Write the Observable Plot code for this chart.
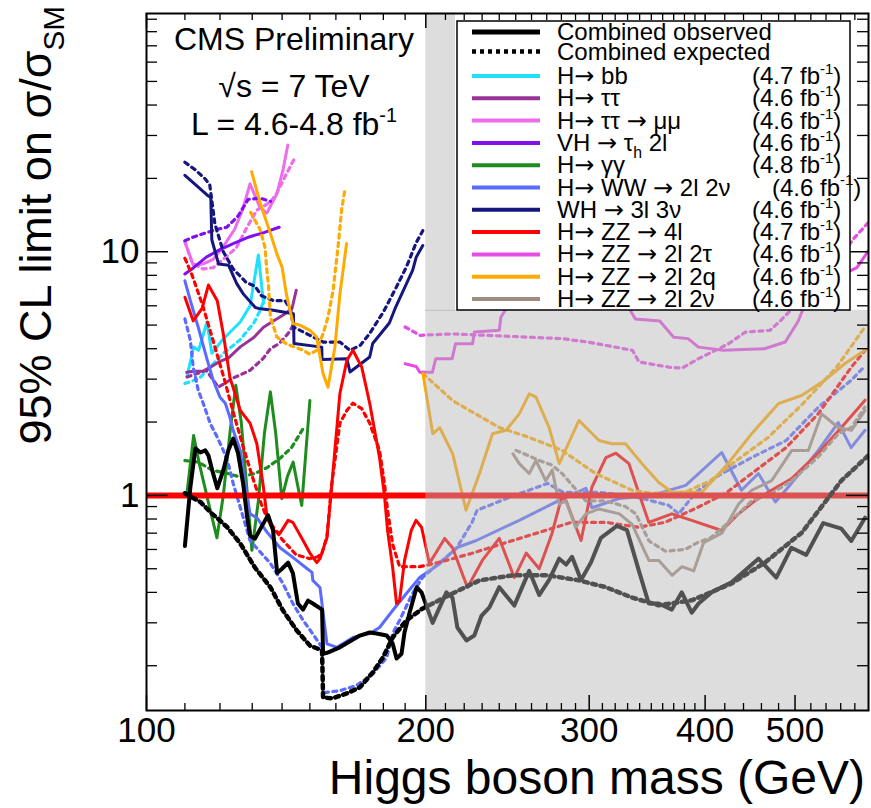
<!DOCTYPE html>
<html><head><meta charset="utf-8">
<script src="https://cdn.jsdelivr.net/npm/d3@7"></script>
<script src="https://cdn.jsdelivr.net/npm/@observablehq/plot@0.6"></script>
<style>body{margin:0;background:#fff;} svg{display:block;}</style>
</head><body><div id="chart"></div>
<script>
// ---------------- data (mass GeV, 95% CL limit on sigma/sigma_SM) ----------------
const combObs = [[110,0.62],[111.5,1.08],[112.9,1.56],[114.3,1.50],[115.7,1.53],[116.6,1.46],[117.7,1.27],[119.2,1.07],[121,1.27],[122.5,1.53],[124,1.71],[125.5,1.49],[127.1,1.12],[128.4,0.81],[129.3,0.685],[130.9,0.665],[133.2,0.75],[135.2,0.83],[136.9,0.72],[138.3,0.48],[140,0.50],[142.1,0.53],[143.8,0.48],[145.6,0.36],[147.5,0.34],[149.3,0.37],[151.1,0.36],[154.6,0.34],[155,0.224],[156.5,0.226],[161.6,0.238],[169.8,0.266],[174,0.274],[177,0.271],[181.5,0.266],[184.2,0.247],[186,0.214],[188.3,0.224],[189.7,0.274],[192.1,0.33],[195.5,0.42],[197.9,0.40],[203.4,0.30],[210.5,0.40],[213.7,0.38],[216.3,0.287],[221.2,0.254],[225.6,0.266],[229.6,0.32],[234.2,0.347],[240,0.42],[249.1,0.353],[258.5,0.49],[265,0.39],[271.6,0.45],[278.5,0.55],[283.3,0.52],[287.5,0.56],[294,0.45],[301.3,0.53],[308.9,0.67],[321.4,0.75],[329.5,0.72],[339.4,0.49],[347.8,0.36],[356.5,0.36],[368.3,0.34],[377.5,0.40],[386.9,0.33],[393.6,0.36],[406.4,0.40],[427.1,0.44],[456.6,0.55],[477.3,0.46],[495.5,0.61],[514.1,0.57],[536.3,0.77],[560.9,0.73],[574.9,0.65],[594.9,0.81]];
const combExp = [[110,1.02],[114.3,0.94],[117.7,0.84],[119.5,0.80],[122.2,0.74],[126.2,0.635],[130.9,0.505],[136,0.42],[140.3,0.337],[145.2,0.279],[150,0.242],[154.6,0.231],[155,0.148],[158.7,0.147],[164.4,0.154],[169.8,0.163],[175.4,0.188],[179.8,0.216],[184.2,0.261],[190.6,0.307],[198.3,0.343],[213.7,0.396],[228.5,0.448],[248.3,0.47],[270.6,0.47],[292.5,0.448],[312.7,0.42],[333.6,0.381],[356.5,0.354],[386.9,0.371],[427.1,0.435],[464,0.53],[508.8,0.705],[560.9,1.15],[600,1.46]];

const bbObs = [[110.6,3.08],[112.4,4.06],[113.8,3.94],[116.2,5.15],[117.6,3.83],[120.6,4.33],[126.2,5.15],[129.3,6.0],[132,9.7],[133.7,6.15]];
const bbExp = [[110,2.88],[114,3.02],[117,3.35],[121,3.83],[126,4.33],[130.5,5.1],[132.6,5.75],[134.2,6.5]];
const ttObs = [[110.5,3.2],[112.4,3.23],[115,3.23],[117.2,3.36],[120,3.55],[122.6,3.67],[126.2,4.07],[130.5,4.45],[133.7,4.9],[137,5.2],[140.4,5.5],[143.5,5.85],[145,6.95]];
const ttExp = [[110.6,3.06],[116,3.26],[119.5,2.78],[124,3.03],[129.3,3.26],[133.6,3.65],[136,4.0],[139,4.2],[142,4.6],[144,5.0]];
const ttmmObs = [[110,11],[112.3,8.8],[115,8.9],[118,9.3],[121,10.5],[124.5,12.4],[127,15],[129.3,19],[132.5,15.2],[134.8,14.4],[138.2,17.3],[140.3,21.6],[142,27.4]];
const ttmmExp = [[110,11],[112,9],[115,8.5],[118,8.6],[121,9.3],[125,10.4],[128.3,12.6],[131.5,14.8],[136,16],[138.2,17.4],[141,20.3],[144,23.7],[145,24.5]];
const vhObs = [[110,8.1],[112.4,8.6],[116,9.5],[120,10.2],[124,10.8],[129,11.5],[134,12],[139,12.6]];
const vhExp = [[110,11.1],[112.4,11.5],[115.5,11.9],[118.5,12.3],[122,12.6],[125.5,14],[128.7,16.4],[132.5,16.6],[136,16.1]];
const ggObs = [[110.5,1.0],[112.4,1.76],[114,1.35],[116.5,0.95],[119.1,0.67],[121,1.0],[123,1.8],[124.8,2.83],[126.5,2.0],[128.2,1.1],[129.9,0.595],[132,0.95],[134,1.8],[136,2.66],[137.8,1.8],[139.9,0.97],[141.9,1.2],[143.9,1.37],[145.5,1.1],[147,0.91],[148.5,1.5],[150,2.45]];
const ggExp = [[110,1.39],[113.7,1.37],[117.7,1.27],[122.3,1.23],[126.2,1.19],[130.9,1.23],[134.9,1.3],[139.3,1.42],[143.3,1.57],[147.5,1.88]];
const wwObs = [[110,7.6],[111.5,6.3],[113.7,4.9],[116.3,3.58],[118,2.97],[120,2.53],[121.6,2.39],[123,2.09],[124,1.85],[126.2,1.53],[127.7,1.12],[129.3,0.84],[131.5,0.81],[134.9,0.705],[139.3,0.61],[143.8,0.557],[149,0.50],[150.8,0.483],[151.1,0.448],[153.8,0.419],[156.5,0.246],[160.4,0.238],[166.9,0.261],[174,0.271],[178.3,0.287],[184.2,0.337],[190.6,0.396],[196.9,0.46],[207.2,0.526],[215.8,0.61],[226.7,0.653],[252.2,0.79],[278.5,0.954],[297.6,1.07],[302,0.89],[323,0.97],[350.4,1.0],[381.2,1.1],[416.8,1.5],[437.8,1.05],[456.6,1.23],[476.2,0.94],[495.5,1.12],[529.7,1.53],[556.6,1.99],[574.6,1.57],[594.9,1.85]];
const wwExp = [[110,5.3],[111.5,4.33],[112.3,3.35],[113.7,2.7],[115.1,2.39],[117.1,1.98],[119.2,1.73],[121,1.53],[122.5,1.35],[124,1.12],[129.3,0.653],[136,0.526],[140.3,0.435],[143.8,0.36],[147.5,0.307],[151.1,0.27],[154.6,0.238],[155,0.155],[161.6,0.158],[168.4,0.166],[175.4,0.185],[181.5,0.216],[184.2,0.271],[187.4,0.307],[193.5,0.396],[198.3,0.46],[215.8,0.606],[224.3,0.775],[227.1,0.868],[245.8,0.98],[270.6,1.12],[281.1,1.03],[307.4,1.03],[339.4,0.98],[365.5,0.91],[374.6,0.84],[391,1.03],[413.9,1.21],[449,1.43],[489,1.68],[529.7,2.3],[574.9,2.97],[594.9,3.4]];
const whObs = [[110,20.6],[113,18.8],[116.2,17.1],[117.3,16.7],[117.6,11.2],[119.6,8.9],[122.6,8.8],[125.1,7.4],[127.2,6.7],[131,5.9],[132.6,5.83],[137,5.75],[140.4,5.66],[144,5.57],[144.2,4.2],[154.5,4.06],[154.6,3.61],[164.4,3.64],[165.7,3.21],[174,3.7],[175.3,4.2],[182.7,5.1],[185.6,5.93],[193.6,8.4],[195.3,9.5],[198.5,10.6]];
const whExp = [[110,23.3],[113,21.6],[115.7,19.9],[117,18.8],[118.5,13],[121,10],[124,8.5],[128,7.5],[131,7.2],[133,6.6],[137,6.3],[141,6.3],[143,5.8],[144,4.91],[150,4.54],[155,4.26],[161.6,4.26],[165.7,3.94],[170,4.13],[174,4.62],[180,5.66],[185.7,7.1],[190.6,8.66],[195.3,10.9],[198.5,12.2]];
const zz4lObs = [[110,6.5],[112.3,5.2],[114.8,5.85],[116.6,7.3],[119.2,6.3],[121,4.6],[123,3.05],[126.2,2.23],[129.3,1.98],[131.5,1.63],[133.5,1.12],[134.9,0.81],[136.9,0.718],[139.3,0.70],[142.1,0.79],[143.8,0.775],[147.5,0.653],[150,0.58],[152.6,0.53],[153.8,0.55],[156.5,0.67],[158.3,1.08],[161.6,2.62],[164.4,3.58],[166.9,3.94],[170.6,3.36],[174,2.39],[178.3,1.43],[180.5,1.0],[181.9,0.718],[184.2,0.506],[186,0.36],[187.4,0.37],[189.7,0.54],[192.9,0.718],[195.2,0.79],[197.9,0.74],[201.8,0.526],[209.6,0.666],[213.7,0.61],[221.8,0.419],[230.1,0.541],[240,0.666],[249.1,0.46],[256.6,0.58],[265,0.50],[273.6,0.70],[280.5,1.0],[283.3,0.95],[294,0.653],[302,1.08],[312.7,1.43],[320.6,1.49],[331.1,1.35],[347.8,0.775],[368.3,0.84],[386.9,0.79],[416.8,0.718],[434.5,0.84],[453.2,0.954],[471.5,1.05],[495.5,1.17],[529.7,1.49],[560.9,1.9],[594.9,2.46]];
const zz4lExp = [[110,9.4],[112,8],[115,6],[118,4.3],[121,3.1],[124,2.2],[127,1.6],[130,1.2],[133,0.92],[135,0.8],[140,0.66],[145,0.57],[150,0.55],[153,0.56],[154.6,0.58],[156.5,0.68],[158.3,1.1],[161.6,1.98],[164.4,2.23],[166.9,2.39],[170.6,2.27],[174,1.98],[178.3,1.53],[180.5,1.12],[181.9,0.87],[184.2,0.63],[187.4,0.51],[197,0.51],[202,0.52],[210,0.54],[224,0.578],[244,0.64],[265,0.705],[287,0.775],[313,0.775],[339,0.74],[362,0.775],[392,0.89],[421,1.02],[449,1.23],[489,1.57],[530,2.17],[575,3.36],[595,3.94]];
const zz2l2tObs = [[190,3.47],[195.3,3.38],[197.1,3.2],[203.3,3.2],[205,3.64],[213.5,3.64],[215.3,4.19],[224.6,4.19],[225.6,4.68],[240,4.76],[241,5.4],[255,7.5],[300,8],[330,6],[336.4,5.3],[357.4,5.2],[370,4.46],[383.4,4.4],[393.5,4.06],[418.3,3.94],[463.5,4.0],[488,4.26],[504,5.2],[520,7],[560,8],[583,8.6],[600,10.1]];
const zz2l2tExp = [[190,4.91],[197.1,4.54],[213.5,4.6],[232,4.54],[280.5,4.4],[300,4.25],[334,3.94],[339.5,3.53],[365.6,3.36],[377.8,3.33],[393.5,3.64],[424,4.19],[442,4.68],[470,4.76],[482,5.2],[520,7],[560,9.5],[578,11.3],[600,13.2]];
const zz2l2qLowObs = [[129.8,21.3],[132.6,15.8],[136,11.9],[138.2,9.8],[140,8.65],[141.5,6.7],[143.9,5.06],[146.3,5.0],[150,4.76],[152.5,4.47],[155,3.16],[156.9,2.78],[159.6,4.06],[161.6,6.7],[164.3,10.8]];
const zz2l2qLowExp = [[129.5,14.5],[130.3,13.9],[132.6,12.3],[134.2,10.4],[134.8,8.4],[135.3,7.4],[136,5.4],[138.2,4.47],[141.5,4.19],[147.5,3.94],[150,3.8],[152.5,3.94],[155,4.61],[156.9,5.4],[158.9,6.95],[161,10.8],[162.3,14.9],[163.6,17.9]];
const zz2l2qHighObs = [[198.6,3.16],[203.5,1.79],[207,1.9],[213.8,1.48],[221,0.87],[228.5,1.23],[236,1.79],[244,1.85],[252.2,2.16],[258.5,2.61],[262.9,2.53],[271.6,1.9],[278.5,1.35],[292.5,2.03],[307.4,1.68],[317.7,1.63],[328.3,1.63],[342,1.35],[356.6,1.13],[368.6,1.03],[396.9,1.03],[420.5,1.31],[449,1.79],[479.7,2.38],[508.2,2.57],[538.4,2.97],[565.6,3.47],[594.6,3.94]];
const zz2l2qHighExp = [[198.6,3.16],[213.8,2.45],[240,1.9],[258.5,1.73],[280.5,1.53],[304.7,1.23],[333.7,1.05],[350.7,1.02],[380.5,1.03],[405.5,1.15],[432.3,1.39],[467.8,1.73],[509.9,2.38],[554.4,3.36],[594.6,4.91]];
const zz2l2nObs = [[248.3,1.48],[252.2,1.35],[258.5,1.23],[262.9,1.39],[269.3,1.15],[273.7,1.27],[278.5,0.92],[283.1,0.95],[290,0.74],[297.5,0.84],[307.4,0.88],[323.4,0.84],[333.7,0.76],[348,0.54],[356.6,0.54],[368.5,0.47],[377.7,0.51],[388.8,0.49],[398.5,0.64],[417,0.70],[434.5,0.92],[449,1.05],[471.8,1.15],[496,1.53],[516.8,1.53],[534,2.16],[556.6,1.9],[575,1.85],[594.6,2.23]];
const zz2l2nExp = [[250.2,1.53],[265.3,1.39],[273.7,1.33],[280.5,1.23],[297.5,0.95],[312.3,0.95],[328.3,0.9],[336.8,0.84],[348,0.65],[362.6,0.59],[380.5,0.6],[392.6,0.64],[405.5,0.67],[434.5,0.84],[449,0.95],[471.8,1.02],[496,1.15],[529.7,1.44],[556.6,1.79],[575,1.9],[594.6,2.3]];

// axis ticks and labels
const xMajor = [100, 200, 300, 400, 500];
const xMinor = [110,120,130,140,150,160,170,180,190,210,220,230,240,250,260,270,280,290,310,320,330,340,350,360,370,380,390,420,440,460,480,520,540,560,580];
const yMajor = [1, 10];
const yMinor = [0.2,0.3,0.4,0.5,0.6,0.7,0.8,0.9,2,3,4,5,6,7,8,9,20,30,40,50,60,70,80,90];
const smLine = [1];
const shadeMass = [200, 600];        // high-mass region
const shadeTop = 5.75;               // top of the lower shaded band
const shadeStripMass = 215.3;        // narrow shaded strip left of the legend
const shadeMaxY = 95;
const shadeMinY = 0.131;

// legend
const legendNames = ["Combined observed","Combined expected","H\u2192 bb","H\u2192 \u03c4\u03c4","H\u2192 \u03c4\u03c4 \u2192 \u03bc\u03bc","VH \u2192 \u03c4_{h} 2l","H\u2192 \u03b3\u03b3","H\u2192 WW \u2192 2l 2\u03bd","WH \u2192 3l 3\u03bd","H\u2192 ZZ \u2192 4l","H\u2192 ZZ \u2192 2l 2\u03c4","H\u2192 ZZ \u2192 2l 2q","H\u2192 ZZ \u2192 2l 2\u03bd"];
const legendLumi = ["","","(4.7 fb^{-1})","(4.6 fb^{-1})","(4.6 fb^{-1})","(4.6 fb^{-1})","(4.8 fb^{-1})","(4.6 fb^{-1})","(4.6 fb^{-1})","(4.7 fb^{-1})","(4.6 fb^{-1})","(4.6 fb^{-1})","(4.6 fb^{-1})"];

// ---------------- styles ----------------
const FONT = "'Liberation Sans', Arial, Helvetica, sans-serif";
const ARROW_FONT = "'DejaVu Sans', 'Liberation Sans', sans-serif";
const C = {bb:"#20dfff", tt:"#993399", ttmm:"#ec6cec", vh:"#8010f0", gg:"#1e8c1e", ww:"#5b6bff", wh:"#16167f", zz4l:"#ff0000", zz2l2t:"#e64ce6", zz2l2q:"#ffaa00", zz2l2n:"#a08c80"};
const DOT = "4,4.5";

const channels = [
  {exp: bbExp, obs: bbObs, c: C.bb},
  {exp: ttExp, obs: ttObs, c: C.tt},
  {exp: ttmmExp, obs: ttmmObs, c: C.ttmm},
  {exp: vhExp, obs: vhObs, c: C.vh},
  {exp: ggExp, obs: ggObs, c: C.gg},
  {exp: wwExp, obs: wwObs, c: C.ww},
  {exp: whExp, obs: whObs, c: C.wh},
  {exp: zz4lExp, obs: zz4lObs, c: C.zz4l},
  {exp: zz2l2tExp, obs: zz2l2tObs, c: C.zz2l2t},
  {exp: zz2l2qLowExp, obs: zz2l2qLowObs, c: C.zz2l2q},
  {exp: zz2l2qHighExp, obs: zz2l2qHighObs, c: C.zz2l2q},
  {exp: zz2l2nExp, obs: zz2l2nObs, c: C.zz2l2n}
];
const legendStyle = [
  {c:"#000", w:5}, {c:"#000", w:4.5, dash:"4,4"},
  {c:C.bb},{c:C.tt},{c:C.ttmm},{c:C.vh},{c:C.gg},{c:C.ww},{c:C.wh},{c:C.zz4l},{c:C.zz2l2t},{c:C.zz2l2q},{c:C.zz2l2n}
];

const X = d => d[0], Y = d => d[1];
const lineMarks = [];
for (const ch of channels) {
  lineMarks.push(Plot.line(ch.exp, {x: X, y: Y, stroke: ch.c, strokeWidth: 3.2, strokeDasharray: DOT, clip: true}));
  lineMarks.push(Plot.line(ch.obs, {x: X, y: Y, stroke: ch.c, strokeWidth: 3, clip: true}));
}

const W = 871, H = 808, mT = 13, mB = 98, mL = 146, mR = 3;
const innerW = W - mL - mR, innerH = H - mT - mB;

const chart = Plot.plot({
  width: W, height: H,
  marginTop: mT, marginBottom: mB, marginLeft: mL, marginRight: mR,
  x: {type: "log", domain: [100, 600], axis: null},
  y: {type: "log", domain: [shadeMinY, shadeMaxY], axis: null},
  style: {fontFamily: FONT, background: "white", color: "black"},
  marks: [
    ...lineMarks,
    Plot.ruleY(smLine, {y: d => d, stroke: "#ff0000", strokeWidth: 6}),
    Plot.line(combExp, {x: X, y: Y, stroke: "#000", strokeWidth: 4.5, strokeDasharray: "4,4.5", clip: true}),
    Plot.line(combObs, {x: X, y: Y, stroke: "#000", strokeWidth: 4, clip: true}),
    // shaded high-mass region (semi-transparent, fades the curves beneath)
    Plot.rect([0], {x1: () => shadeMass[0], x2: () => shadeMass[1], y1: () => shadeMinY, y2: () => shadeTop, fill: "#b4b4b4", fillOpacity: 0.45}),
    Plot.rect([0], {x1: () => shadeMass[0], x2: () => shadeStripMass, y1: () => shadeTop, y2: () => shadeMaxY, fill: "#b4b4b4", fillOpacity: 0.45}),
    Plot.ruleY([shadeTop], {y: d => d, x1: () => shadeMass[0], x2: () => shadeStripMass, stroke: "#bcbcbc", strokeWidth: 1}),
    // ticks (inside the frame, on all four sides)
    Plot.tickX(xMajor, {x: d => d, insetTop: innerH - 15, stroke: "#000", strokeWidth: 1.5}),
    Plot.tickX(xMinor, {x: d => d, insetTop: innerH - 7, stroke: "#000", strokeWidth: 1.3}),
    Plot.tickX(xMajor, {x: d => d, insetBottom: innerH - 15, stroke: "#000", strokeWidth: 1.5}),
    Plot.tickX(xMinor, {x: d => d, insetBottom: innerH - 7, stroke: "#000", strokeWidth: 1.3}),
    Plot.tickY(yMajor, {y: d => d, insetRight: innerW - 22, stroke: "#000", strokeWidth: 1.5}),
    Plot.tickY(yMinor, {y: d => d, insetRight: innerW - 11, stroke: "#000", strokeWidth: 1.3}),
    Plot.tickY(yMajor, {y: d => d, insetLeft: innerW - 22, stroke: "#000", strokeWidth: 1.5}),
    Plot.tickY(yMinor, {y: d => d, insetLeft: innerW - 11, stroke: "#000", strokeWidth: 1.3}),
    Plot.frame({stroke: "#000", strokeWidth: 2}),
    // tick labels
    Plot.text(xMajor, {x: d => d, frameAnchor: "bottom", dy: 31, text: d => String(d), fontSize: 35, fontFamily: FONT, fill: "#000"}),
    Plot.text(yMajor, {y: d => d, frameAnchor: "left", dx: -7, textAnchor: "end", text: d => String(d), fontSize: 35, fontFamily: FONT, fill: "#000"})
  ]
});

// ---------------- annotations, titles, legend (real SVG text) ----------------
const svg = d3.select(chart);
function rich(textSel, str, size) {
  const parts = str.split(/(\^\{[^}]*\}|_\{[^}]*\}|\u2192)/).filter(s => s !== "");
  let pending = 0;
  for (const p of parts) {
    if (p.startsWith("^{")) {
      textSel.append("tspan").attr("dy", pending - 0.42 * size).attr("font-size", 0.62 * size).text(p.slice(2, -1));
      pending = 0.42 * size;
    } else if (p.startsWith("_{")) {
      textSel.append("tspan").attr("dy", pending + 0.28 * size).attr("font-size", 0.66 * size).text(p.slice(2, -1));
      pending = -0.28 * size;
    } else if (p === "\u2192") {
      const t = textSel.append("tspan").attr("font-family", ARROW_FONT).attr("font-size", 1.0 * size).text(p);
      if (pending) t.attr("dy", pending);
      pending = 0;
    } else {
      const t = textSel.append("tspan").text(p);
      if (pending) t.attr("dy", pending);
      pending = 0;
    }
  }
}

// axis titles
const xt = svg.append("text").attr("x", 865).attr("y", 794).attr("text-anchor", "end")
  .attr("font-family", FONT).attr("font-size", 48).attr("fill", "#000");
rich(xt, "Higgs boson mass (GeV)", 48);
const yt = svg.append("text").attr("transform", "translate(51,6) rotate(-90)").attr("text-anchor", "end")
  .attr("font-family", FONT).attr("font-size", 45).attr("fill", "#000");
rich(yt, "95% CL limit on \u03c3/\u03c3_{SM}", 45);

// CMS labels
const info = [["CMS Preliminary", 50], ["\u221as = 7 TeV", 97], ["L = 4.6-4.8 fb^{-1}", 135]];
for (const [s, yb] of info) {
  const t = svg.append("text").attr("x", 294).attr("y", yb).attr("text-anchor", "middle")
    .attr("font-family", FONT).attr("font-size", 32).attr("fill", "#000");
  rich(t, s, 32);
}

// legend
const lg = svg.append("g").attr("font-family", FONT).attr("fill", "#000").attr("text-anchor", "start");
lg.append("rect").attr("x", 457).attr("y", 21).attr("width", 393).attr("height", 289)
  .attr("fill", "white").attr("stroke", "#000").attr("stroke-width", 1.5);
const LS = 24;
legendNames.forEach((name, i) => {
  const yc = i < 2 ? 32 + 19.5 * i : 76 + 22.3 * (i - 2);
  const st = legendStyle[i];
  lg.append("line").attr("x1", 472).attr("x2", 540).attr("y1", yc).attr("y2", yc)
    .attr("stroke", st.c).attr("stroke-width", st.w || 4).attr("stroke-dasharray", st.dash || null);
  const t = lg.append("text").attr("x", 557).attr("y", yc + 8).attr("font-size", LS).attr("text-anchor", "start");
  rich(t, name, LS);
  if (legendLumi[i]) {
    const lx = i === 7 ? 772 : 752;
    const u = lg.append("text").attr("x", lx).attr("y", yc + 8).attr("font-size", LS).attr("text-anchor", "start");
    rich(u, legendLumi[i], LS);
  }
});

document.getElementById("chart").append(chart);
</script>
</body></html>
